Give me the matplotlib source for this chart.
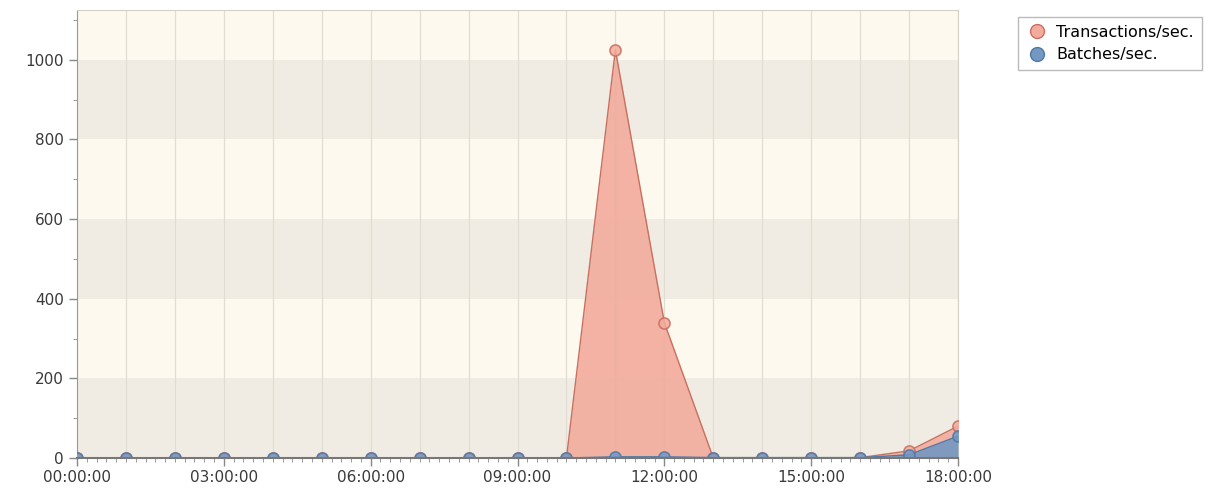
#!/usr/bin/env python3

import matplotlib
matplotlib.use("Agg")
import matplotlib.pyplot as plt
from matplotlib.lines import Line2D
from matplotlib.ticker import MultipleLocator


HOURS = list(range(19))
TRANSACTIONS = [0, 0, 0, 0, 0, 0, 0, 0, 0, 0, 0, 1025, 340, 0, 0, 0, 1, 18, 80]
BATCHES = [0, 0, 0, 0, 0, 0, 0, 0, 0, 0, 0, 3, 3, 1, 1, 1, 1, 8, 55]
XTICK_HOURS = [0, 3, 6, 9, 12, 15, 18]
XTICK_LABELS = ["00:00:00", "03:00:00", "06:00:00", "09:00:00",
                "12:00:00", "15:00:00", "18:00:00"]

RED_FILL = "#f2ab9c"
RED_EDGE = "#c8705f"
BLUE_FILL = "#7398c2"
BLUE_EDGE = "#4f79a8"


def main():
    fig = plt.figure(figsize=(12.22, 5), dpi=100)
    ax = fig.add_axes([77 / 1222, 42 / 500, 881 / 1222, 448 / 500])

    ymax = 1125
    ax.set_xlim(0, 18)
    ax.set_ylim(0, ymax)

    # alternating bands
    band_dark = "#f1ece3"
    band_light = "#fdf9ee"
    y = 0
    i = 0
    while y < ymax:
        ax.axhspan(y, min(y + 200, ymax),
                   facecolor=band_dark if i % 2 == 0 else band_light,
                   edgecolor="none", zorder=0)
        y += 200
        i += 1

    for h in HOURS:
        ax.axvline(h, color="#e2ddd2", linewidth=0.9, zorder=1)

    ax.fill_between(HOURS, TRANSACTIONS, color=RED_FILL, alpha=0.9, zorder=2,
                    linewidth=0)
    ax.plot(HOURS, TRANSACTIONS, color=RED_EDGE, linewidth=1.0, zorder=3)
    sc = ax.scatter(HOURS, TRANSACTIONS, s=64, facecolor=RED_FILL,
                    edgecolor=RED_EDGE, linewidth=1.2, alpha=0.85, zorder=3)
    sc.set_clip_path(ax.patch)

    ax.fill_between(HOURS, BATCHES, color=BLUE_FILL, alpha=0.9, zorder=4,
                    linewidth=0)
    ax.plot(HOURS, BATCHES, color=BLUE_EDGE, linewidth=1.0, zorder=5)
    sc = ax.scatter(HOURS, BATCHES, s=64, facecolor=BLUE_FILL,
                    edgecolor=BLUE_EDGE, linewidth=1.2, alpha=0.85, zorder=5)
    sc.set_clip_path(ax.patch)

    ax.set_xticks(XTICK_HOURS)
    ax.set_xticklabels(XTICK_LABELS)
    ax.xaxis.set_minor_locator(MultipleLocator(0.2))
    ax.yaxis.set_major_locator(MultipleLocator(200))
    ax.yaxis.set_minor_locator(MultipleLocator(100))
    ax.tick_params(axis="both", which="major", labelsize=11, colors="#888888",
                   labelcolor="#3a3a3a", length=6, width=1)
    ax.tick_params(axis="both", which="minor", colors="#888888", length=3)
    ax.tick_params(axis="x", which="major", pad=3)

    for side in ("top", "right"):
        ax.spines[side].set_color("#d5d1c8")
    ax.spines["left"].set_color("#999999")
    ax.spines["bottom"].set_color("#777777")
    ax.spines["bottom"].set_linewidth(1.5)
    ax.spines["bottom"].set_zorder(6)

    handles = [
        Line2D([], [], marker="o", linestyle="none", markersize=10,
               markerfacecolor=RED_FILL, markeredgecolor=RED_EDGE),
        Line2D([], [], marker="o", linestyle="none", markersize=10,
               markerfacecolor=BLUE_FILL, markeredgecolor=BLUE_EDGE),
    ]
    fig.legend(handles, ["Transactions/sec.", "Batches/sec."],
               loc="upper left", bbox_to_anchor=(1010 / 1222, 1 - 9 / 500),
               fontsize=11.5, frameon=True, fancybox=False,
               edgecolor="#aaaaaa", handlelength=1.4, handletextpad=0.5,
               borderpad=0.5, labelspacing=0.45)

    fig.savefig("out.png", dpi=100)


if __name__ == "__main__":
    main()
